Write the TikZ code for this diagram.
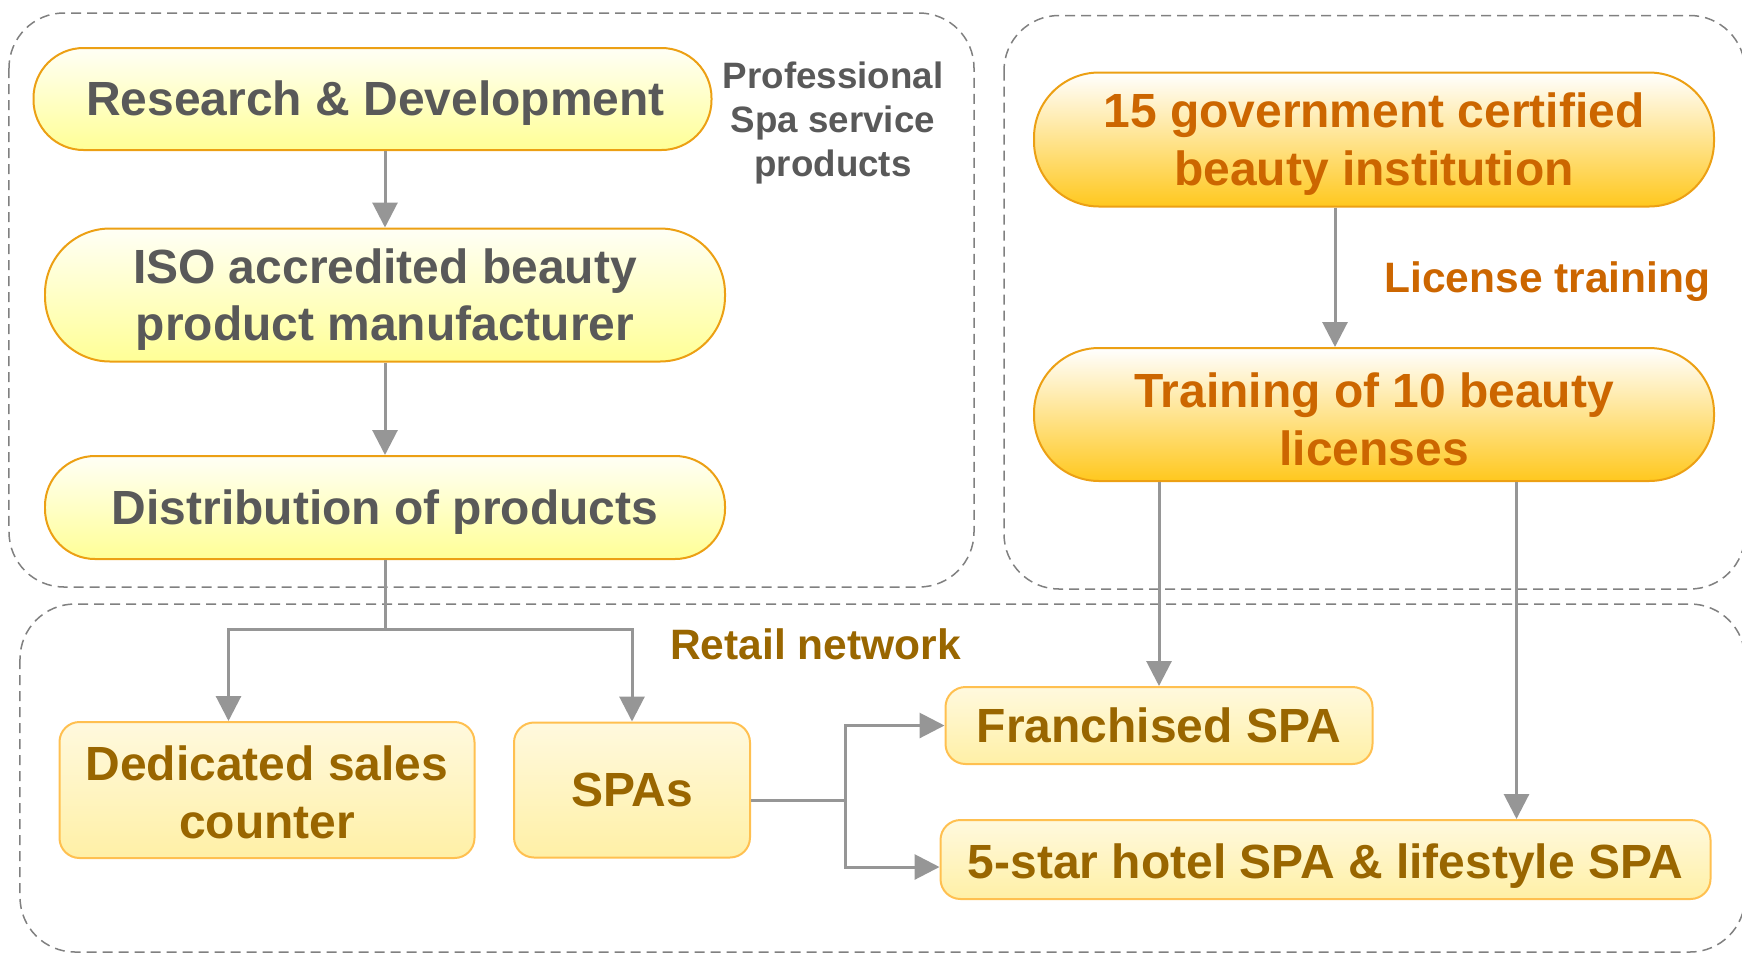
\documentclass[tikz,border=0pt]{standalone}
\usepackage{fontspec}
\setmainfont{Liberation Sans}
\usetikzlibrary{arrows.meta,positioning}
\definecolor{txtgray}{RGB}{89,89,89}
\definecolor{txtorange}{RGB}{204,102,0}
\definecolor{txtbrown}{RGB}{153,102,0}
\definecolor{edgeorange}{RGB}{236,160,20}
\definecolor{edgelight}{RGB}{255,192,80}
\definecolor{linegray}{RGB}{150,150,150}
\definecolor{framegray}{RGB}{128,128,128}
\newcommand{\pillfont}{\fontsize{27.3}{32.8}\selectfont\bfseries}
\newcommand{\capfont}{\fontsize{20.9}{25.3}\selectfont\bfseries}
\newcommand{\tagfont}{\fontsize{24.2}{29}\selectfont\bfseries}
% strut that pushes the text a little lower in its box
\newcommand{\dropline}[1][25pt]{\rule{0pt}{#1}}
\tikzstyle{every picture}=[>={Triangle[width=0.5cm,length=0.5cm]}, node distance=4cm]
\tikzstyle{pill}=[draw=edgeorange, line width=0.04cm, minimum width=13.6cm,%
	align=center, inner sep=0pt, font=\pillfont]
\tikzstyle{yellowpill}=[pill, top color={rgb,255:red,255;green,255;blue,246},%
	bottom color={rgb,255:red,255;green,255;blue,150}, text=txtgray]
\tikzstyle{orangepill}=[pill, top color=white,%
	bottom color={rgb,255:red,255;green,200;blue,30}, text=txtorange]
\tikzstyle{outlet}=[draw=edgelight, line width=0.04cm, rounded corners=0.4cm,%
	top color={rgb,255:red,255;green,249;blue,222},%
	bottom color={rgb,255:red,255;green,240;blue,166},%
	text=txtbrown, align=center, inner sep=0pt, font=\pillfont]
\tikzstyle{group}=[draw=framegray, line width=0.03cm,%
	dash pattern=on 0.2cm off 0.12cm, rounded corners=1.1cm]
\tikzstyle{caption}=[align=center, inner sep=0pt]
\tikzstyle{link}=[draw=linegray, line width=0.06cm]
\tikzstyle{flow}=[link, ->]

\begin{document}
\begin{tikzpicture}
	\useasboundingbox (0,0) rectangle (34.84,-19.10);
	% frames
	\draw[group] (0.18,-0.26) rectangle (19.48,-11.74);
	\draw[group] (20.08,-0.31) rectangle (34.9,-11.78);
	\draw[group] (0.40,-12.08) rectangle (34.9,-19.04);
	% products
	\node[yellowpill, minimum width=13.56cm, minimum height=2.04cm, rounded corners=1.0cm] (rd) at (7.45,-1.98) {\dropline\hspace{0.12cm}Research \& Development};
	\node[yellowpill, minimum height=2.66cm, rounded corners=1.3cm, below of=rd, node distance=3.92cm, xshift=0.25cm] (iso) {\dropline ISO accredited beauty\\product manufacturer};
	\node[yellowpill, minimum height=2.06cm, rounded corners=1.0cm, below of=iso, node distance=4.25cm] (dist) {\dropline Distribution of products};
	\node[caption, text=txtgray, font=\capfont] (spaprod) at (16.66,-2.46) {Professional\\Spa service\\products};
	% licenses
	\node[orangepill, minimum height=2.68cm, rounded corners=1.3cm] (gov) at (27.48,-2.79) {\dropline 15 government certified\\beauty institution};
	\node[orangepill, minimum height=2.66cm, rounded corners=1.3cm, below of=gov, node distance=5.5cm] (train) {\dropline Training of 10 beauty\\licenses};
	\node[caption, text=txtorange, font=\tagfont] (lictrain) at (30.95,-5.64) {License training};
	% retail
	\node[outlet, minimum width=8.3cm, minimum height=2.72cm] (counter) at (5.34,-15.8) {\dropline[22.5pt]Dedicated sales\\counter};
	\node[outlet, minimum width=4.72cm, minimum height=2.70cm, right of=counter, node distance=7.3cm] (spas) {SPAs};
	\node[outlet, minimum width=8.54cm, minimum height=1.54cm] (franch) at (23.18,-14.51) {Franchised SPA};
	\node[outlet, minimum width=15.4cm, minimum height=1.58cm] (hotel) at (26.51,-17.19) {\dropline[27pt]5-star hotel SPA \& lifestyle SPA};
	\node[caption, text=txtbrown, font=\tagfont] (retail) at (16.31,-12.89) {Retail network};
	% connectors
	\draw[flow] (rd.south -| iso.north) -- (iso.north);
	\draw[flow] (iso) -- (dist);
	\draw[link] (dist.south) -- ++(0,-1.38) coordinate (fork);
	\draw[flow] (fork) -| ([xshift=-0.77cm]counter.north);
	\draw[flow] (fork) -| (spas.north);
	\draw[flow] ([xshift=-0.78cm]gov.south) -- ([xshift=-0.78cm]train.north);
	\draw[flow] (train.south -| franch.north) -- (franch.north);
	\coordinate (hotelin) at ([xshift=3.82cm]hotel.north);
	\draw[flow] (train.south -| hotelin) -- (hotelin);
	\draw[link] ([yshift=-0.2cm]spas.east) -- ++(1.88,0) coordinate (split);
	\draw[flow] (split) |- (franch.west);
	\draw[flow] (split) |- ([yshift=-0.15cm]hotel.west);
\end{tikzpicture}
\end{document}
